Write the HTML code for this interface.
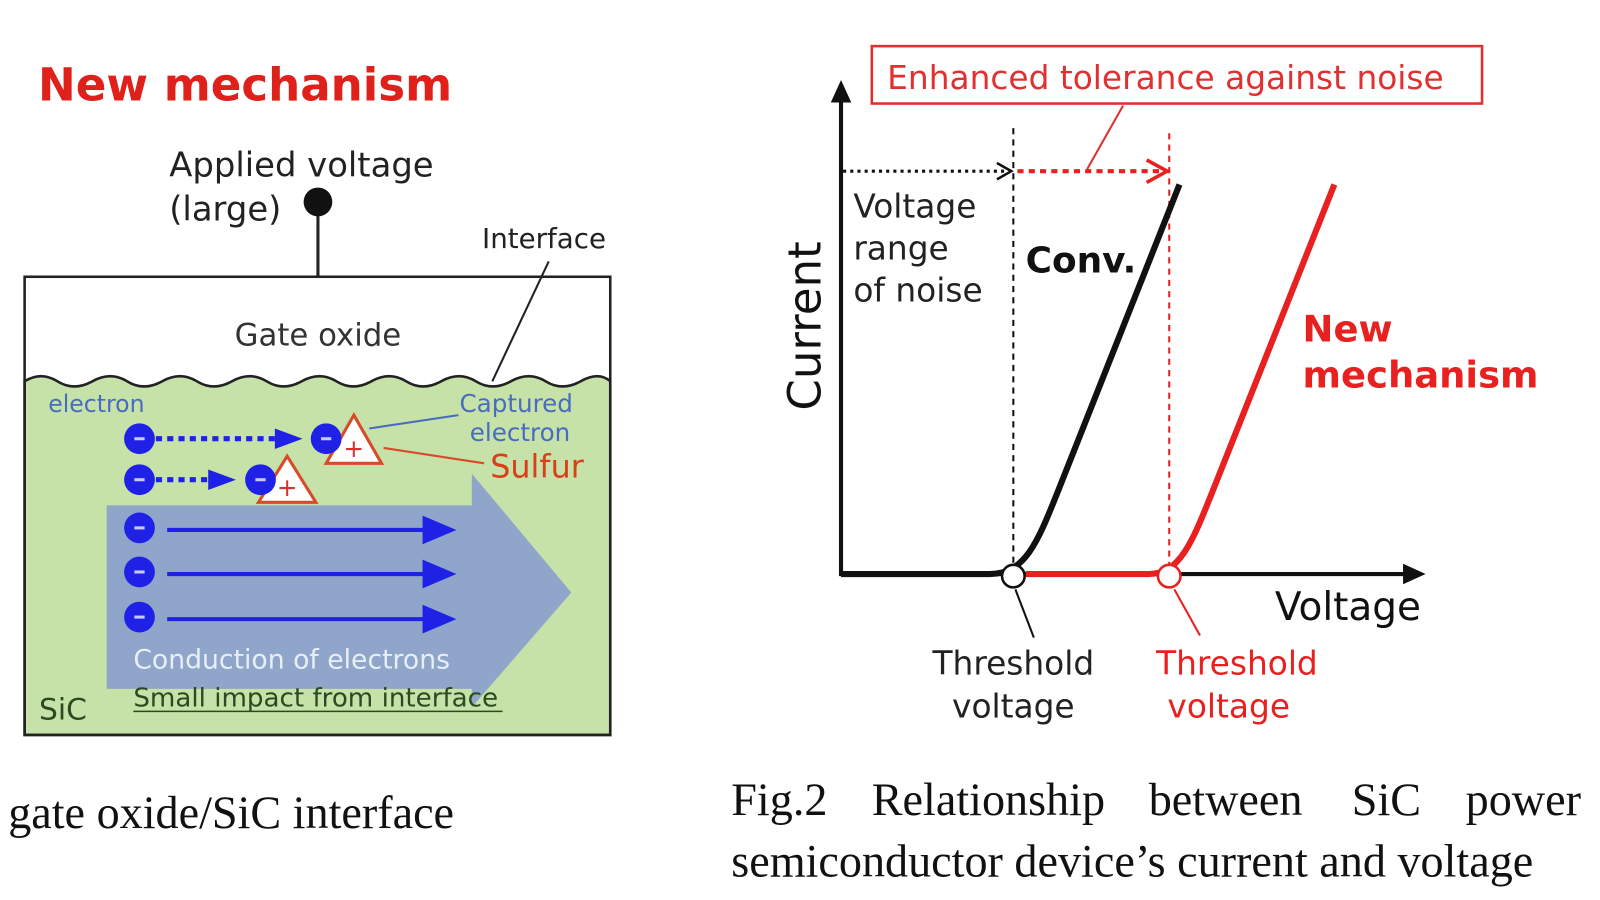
<!DOCTYPE html>
<html><head><meta charset="utf-8"><style>
html,body{margin:0;padding:0;background:#fff;width:1600px;height:900px;overflow:hidden}
svg{display:block}
.s{font-family:"DejaVu Sans","Liberation Sans",sans-serif}
.r{font-family:"Liberation Serif",serif}
</style></head><body>
<svg width="1600" height="900" viewBox="0 0 1560 878" preserveAspectRatio="none" xmlns="http://www.w3.org/2000/svg">
<!-- LEFT -->
<text x="37" y="98" class="s" font-size="44" font-weight="bold" fill="#e0201a">New mechanism</text>
<text x="165" y="172" class="s" font-size="33" fill="#222">Applied voltage</text>
<text x="165" y="215" class="s" font-size="33" fill="#222">(large)</text>
<line x1="310" y1="197" x2="310" y2="271" stroke="#222" stroke-width="3"/>
<circle cx="310" cy="197" r="14" fill="#111"/>
<text x="470" y="242" class="s" font-size="27" fill="#222">Interface</text>
<path d="M24,372 Q40,362 56,372 T90,372 T124,372 T158,372 T192,372 T226,372 T260,372 T294,372 T328,372 T362,372 T396,372 T430,372 T464,372 T498,372 T532,372 T566,372 T595,372 L595,717 L24,717 Z" fill="#c6e2a8" stroke="#222" stroke-width="2.5"/>
<rect x="24" y="270" width="571" height="447" fill="none" stroke="#222" stroke-width="2.5"/>
<line x1="535" y1="255" x2="480" y2="372" stroke="#222" stroke-width="2"/>
<text x="310" y="337" class="s" font-size="30" fill="#333" text-anchor="middle">Gate oxide</text>
<text x="47" y="402" class="s" font-size="23" fill="#4a6cc0">electron</text>
<path d="M104,493 L460,493 L460,462 L557,578 L460,690 L460,672 L104,672 Z" fill="#8fa5c9"/>
<line x1="152" y1="428" x2="270" y2="428" stroke="#1f22e6" stroke-width="5" stroke-dasharray="6,5"/>
<path d="M268,418 L295,428 L268,438 Z" fill="#1f22e6"/>
<line x1="152" y1="468" x2="205" y2="468" stroke="#1f22e6" stroke-width="5" stroke-dasharray="6,5"/>
<path d="M203,458 L230,468 L203,478 Z" fill="#1f22e6"/>
<g stroke="#1f22e6" stroke-width="4">
<line x1="163" y1="517" x2="420" y2="517"/><line x1="163" y1="560" x2="420" y2="560"/><line x1="163" y1="604" x2="420" y2="604"/></g>
<g fill="#1f22e6"><path d="M412,503 L445,517 L412,531Z"/><path d="M412,546 L445,560 L412,574Z"/><path d="M412,590 L445,604 L412,618Z"/></g>
<path d="M345,405 L318,452 L372,452 Z" fill="#fff" stroke="#d84a2a" stroke-width="3"/>
<text x="345" y="446" class="s" font-size="24" fill="#d8302a" text-anchor="middle">+</text>
<path d="M280,445 L252,490 L308,490 Z" fill="#fff" stroke="#d84a2a" stroke-width="3"/>
<text x="280" y="484" class="s" font-size="24" fill="#d8302a" text-anchor="middle">+</text>
<g fill="#1f22e6">
<circle cx="136" cy="428" r="15"/><circle cx="136" cy="468" r="15"/><circle cx="136" cy="515" r="15"/><circle cx="136" cy="558" r="15"/><circle cx="136" cy="602" r="15"/>
<circle cx="318" cy="428" r="15"/><circle cx="254" cy="468" r="15"/></g>
<g stroke="#c8c8f0" stroke-width="3">
<line x1="131" y1="428" x2="141" y2="428"/><line x1="131" y1="468" x2="141" y2="468"/><line x1="131" y1="515" x2="141" y2="515"/><line x1="131" y1="558" x2="141" y2="558"/><line x1="131" y1="602" x2="141" y2="602"/><line x1="313" y1="428" x2="323" y2="428"/><line x1="249" y1="468" x2="259" y2="468"/></g>
<line x1="360" y1="418" x2="447" y2="405" stroke="#4a6cc0" stroke-width="2"/>
<line x1="374" y1="437" x2="472" y2="452" stroke="#d84a2a" stroke-width="2"/>
<text x="448" y="402" class="s" font-size="24" fill="#4a6cc0">Captured</text>
<text x="458" y="430" class="s" font-size="24" fill="#4a6cc0">electron</text>
<text x="478" y="466" class="s" font-size="31" fill="#d8401a">Sulfur</text>
<text x="130" y="652" class="s" font-size="26" fill="#e8eef8">Conduction of electrons</text>
<text x="38" y="702" class="s" font-size="29" fill="#2a4a20">SiC</text>
<text x="130" y="689" class="s" font-size="25.5" fill="#2a4a20">Small impact from interface</text>
<line x1="130" y1="694" x2="490" y2="694" stroke="#2a4a20" stroke-width="1.5"/>
<text x="8" y="808" class="r" font-size="45" fill="#111">gate oxide/SiC interface</text>

<!-- RIGHT -->
<rect x="850" y="45" width="595" height="56" fill="#fff" stroke="#e03030" stroke-width="2.5"/>
<text x="865" y="87" class="s" font-size="32" fill="#e03030">Enhanced tolerance against noise</text>
<line x1="1095" y1="103" x2="1060" y2="165" stroke="#e03030" stroke-width="2"/>
<line x1="820" y1="562" x2="820" y2="95" stroke="#111" stroke-width="4"/>
<path d="M810,100 L820,78 L830,100 Z" fill="#111"/>
<line x1="820" y1="560" x2="1372" y2="560" stroke="#111" stroke-width="4"/>
<path d="M1368,550 L1390,560 L1368,570 Z" fill="#111"/>
<text transform="translate(800,318) rotate(-90)" class="s" font-size="44" fill="#111" text-anchor="middle">Current</text>
<line x1="822" y1="167" x2="982" y2="167" stroke="#111" stroke-width="3" stroke-dasharray="3,4"/>
<path d="M972,159 L986,167 L972,175" fill="none" stroke="#111" stroke-width="2.5"/>
<line x1="992" y1="167" x2="1130" y2="167" stroke="#e82020" stroke-width="4" stroke-dasharray="6,5"/>
<path d="M1118,156 L1138,167 L1118,178" fill="none" stroke="#e82020" stroke-width="3.5"/>
<line x1="988" y1="125" x2="988" y2="560" stroke="#111" stroke-width="2" stroke-dasharray="6,5"/>
<line x1="1140" y1="130" x2="1140" y2="560" stroke="#e82020" stroke-width="2" stroke-dasharray="6,5"/>
<text x="832" y="212" class="s" font-size="32" fill="#222">Voltage</text>
<text x="832" y="253" class="s" font-size="32" fill="#222">range</text>
<text x="832" y="294" class="s" font-size="32" fill="#222">of noise</text>
<text x="1000" y="266" class="s" font-size="35" font-weight="bold" fill="#111">Conv.</text>
<path d="M1000,560 L1120,560 C1150,560 1162,530 1182,480 L1301,180" fill="none" stroke="#e82020" stroke-width="6"/>
<path d="M820,560 L965,560 C1000,560 1012,528 1032,478 L1150,180" fill="none" stroke="#111" stroke-width="6"/>
<circle cx="988" cy="562" r="11" fill="#fff" stroke="#111" stroke-width="2.5"/>
<circle cx="1140" cy="562" r="11" fill="#fff" stroke="#e82020" stroke-width="2.5"/>
<line x1="990" y1="575" x2="1008" y2="622" stroke="#111" stroke-width="2"/>
<line x1="1145" y1="575" x2="1170" y2="620" stroke="#e82020" stroke-width="2"/>
<text x="988" y="658" class="s" font-size="32" fill="#222" text-anchor="middle">Threshold</text>
<text x="988" y="700" class="s" font-size="32" fill="#222" text-anchor="middle">voltage</text>
<text x="1206" y="658" class="s" font-size="32" fill="#e82020" text-anchor="middle">Threshold</text>
<text x="1198" y="700" class="s" font-size="32" fill="#e82020" text-anchor="middle">voltage</text>
<text x="1243" y="605" class="s" font-size="38" fill="#111">Voltage</text>
<text x="1270" y="333" class="s" font-size="36" font-weight="bold" fill="#e82020">New</text>
<text x="1270" y="378" class="s" font-size="36" font-weight="bold" fill="#e82020">mechanism</text>
<g class="r" font-size="45" fill="#111">
<text x="713" y="795">Fig.2</text><text x="850" y="795">Relationship</text><text x="1120" y="795">between</text><text x="1318" y="795">SiC</text><text x="1429" y="795">power</text>
<text x="713" y="855">semiconductor device’s current and voltage</text>
</g>
</svg>
</body></html>
